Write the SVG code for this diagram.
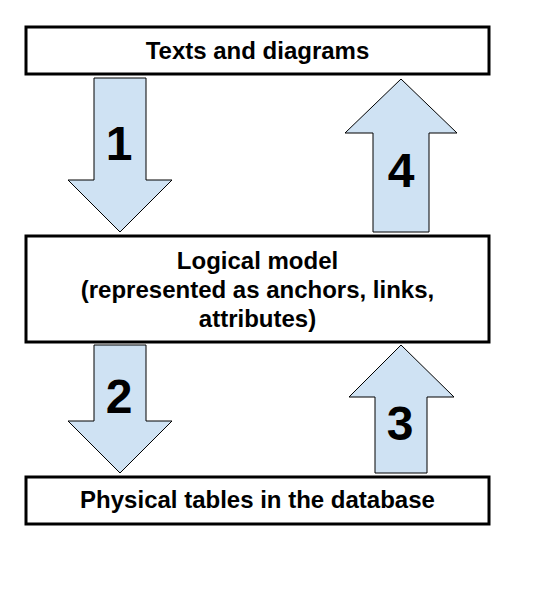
<svg xmlns="http://www.w3.org/2000/svg" width="558" height="600" viewBox="0 0 558 600">
<style>
.box{fill:#fff;stroke:#000;stroke-width:3}
.arr{fill:#cfe2f3;stroke:#000;stroke-width:1}
.t{font-family:"Liberation Sans",Arial,sans-serif;font-weight:bold;font-size:24px;fill:#000;text-anchor:middle}
.n{font-family:"Liberation Sans",Arial,sans-serif;font-weight:bold;font-size:48px;fill:#000;text-anchor:middle}
</style>
<rect width="558" height="600" fill="#fff"/>
<g id="connectors">
<g id="arrow1"><polygon class="arr" points="94,78 146,78 146,180 172,180 120,232 68,180 94,180"/><text class="n" x="119" y="160">1</text></g>
<g id="arrow4"><polygon class="arr" points="401,79 457,133 429,133 429,232 373,232 373,133 345,133"/><text class="n" x="401" y="187">4</text></g>
<g id="arrow2"><polygon class="arr" points="94,345 146,345 146,421 172,421 120,473 68,421 94,421"/><text class="n" x="119" y="413">2</text></g>
<g id="arrow3"><polygon class="arr" points="401,345 454,397 427,397 427,473 375,473 375,397 349,397"/><text class="n" x="400" y="440">3</text></g>
</g>
<g id="texts"><rect class="box" x="26" y="27" width="463" height="47"/><text class="t" x="257.5" y="59">Texts and diagrams</text></g>
<g id="logical"><rect class="box" x="26" y="236" width="463" height="106"/><text class="t" x="257.5" y="269">Logical model</text><text class="t" x="257.5" y="298">(represented as anchors, links,</text><text class="t" x="257.5" y="327">attributes)</text></g>
<g id="physical"><rect class="box" x="26" y="477" width="463" height="47"/><text class="t" x="257.5" y="508">Physical tables in the database</text></g>
</svg>
